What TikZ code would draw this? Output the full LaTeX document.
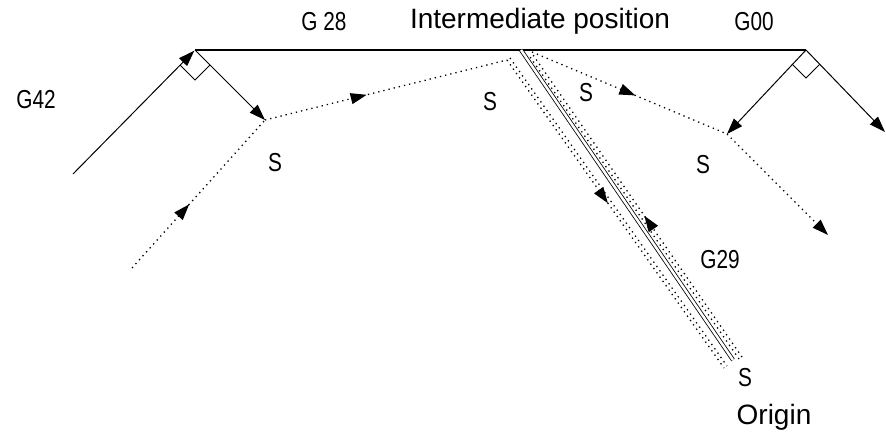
\documentclass[tikz,border=0pt]{standalone}
\usepackage{fontspec}
\setmainfont{Liberation Sans}
\newfontfamily\narrowfont[FakeStretch=0.8]{Liberation Sans}
\usetikzlibrary{arrows.meta,decorations.markings}
\begin{document}
\begin{tikzpicture}[x=1pt,y=-1pt,
  solidline/.style={line width=1pt},
  dotline/.style={line width=1.3pt, dash pattern=on 1.3pt off 4pt},
  endtip/.style={-{Triangle[length=16pt,width=11pt]}},
  midarrow/.style={postaction={decorate},decoration={markings,
     mark=at position #1 with {\arrow{Triangle[length=16pt,width=11pt]}}}},
  glabel/.style={font=\narrowfont\fontsize{26}{26}\selectfont, inner sep=0pt},
  plabel/.style={font=\fontsize{28}{28}\selectfont, inner sep=0pt},
]
\useasboundingbox (0,0) rectangle (886,436);
% points
\coordinate (A0) at (73,174);
\coordinate (C1) at (195,50);
\coordinate (P1) at (265,120);
\coordinate (B0) at (132,268);
\coordinate (T1) at (507,60);
\coordinate (C2) at (806,50);
\coordinate (P2) at (727,134);
\coordinate (E1) at (885,132);
\coordinate (E2) at (828,235);
\coordinate (T2) at (532,52);
\coordinate (D1) at (521,50);
\coordinate (D2) at (733,360);
\coordinate (L1) at (507,60);
\coordinate (L2) at (724,368);
\coordinate (L1b) at (510,58);
\coordinate (L2b) at (727,366);
\coordinate (R1) at (531,52);
\coordinate (R2) at (742,357);
\coordinate (R1b) at (528,54);
\coordinate (R2b) at (739,359);
% solid lines
\draw[solidline, line width=1.8pt] (C1) -- (C2);
\draw[solidline, endtip, shorten >=1pt] (A0) -- (C1);
\draw[solidline, endtip] (C1) -- (P1);
\draw[solidline, endtip] (C2) -- (P2);
\draw[solidline, endtip] (C2) -- (E1);
\draw[solidline] (180,65) -- (195,80) -- (210,65);
\draw[solidline] (792,64) -- (806,78) -- (820,64);
\draw[line width=0.8pt, double, double distance=2.5pt] (D1) -- (D2);
% dotted paths
\draw[dotline, midarrow=0.43] (B0) -- (P1);
\draw[dotline, midarrow=0.42] (P1) -- (T1);
\draw[dotline, midarrow=0.465] (L1) -- (L2);
\draw[dotline] (L1b) -- (L2b);
\draw[dotline, midarrow=0.463] (R2) -- (R1);
\draw[dotline] (R2b) -- (R1b);
\draw[dotline, midarrow=0.53] (T2) -- (P2);
\draw[dotline, endtip] (P2) -- (E2);
% labels
\node[glabel] (g28) at (324,22) {G 28};
\node[plabel] (inter) at (540,21) {Intermediate position};
\node[glabel] (g00) at (754,22) {G00};
\node[glabel] (g42) at (36,100) {G42};
\node[glabel] (s1) at (275,163) {S};
\node[glabel] (s2) at (490,102) {S};
\node[glabel] (s3) at (586,93) {S};
\node[glabel] (s4) at (703,165) {S};
\node[glabel] (g29) at (720,260) {G29};
\node[glabel] (s5) at (745,378) {S};
\node[plabel] (orig) at (774,417) {Origin};
\end{tikzpicture}
\end{document}
